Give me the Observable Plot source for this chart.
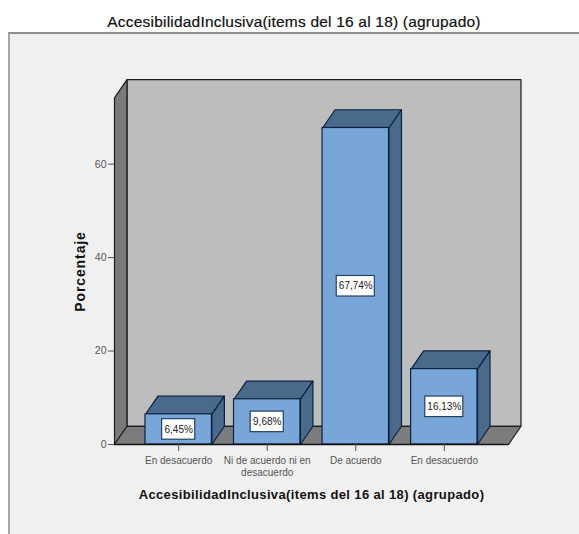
<!DOCTYPE html>
<html>
<head>
<meta charset="utf-8">
<script src="https://cdn.jsdelivr.net/npm/d3@7"></script>
<script src="https://cdn.jsdelivr.net/npm/@observablehq/plot@0.6"></script>
<style>
  html, body { margin: 0; padding: 0; background: #fff; overflow: hidden; }
  body { width: 579px; height: 534px; position: relative; font-family: "Liberation Sans", Arial, sans-serif; }
  #frame { position: absolute; left: 8px; top: 32px; right: -4px; bottom: -4px; background: #f0f0f0; border: 2px solid #8f8f8f; border-left-color: #a6a6a6; }
  #title { position: relative; height: 33px; line-height: 44px; text-align: center; font-size: 15.5px; letter-spacing: 0.2px; color: #111; padding-left: 9px; -webkit-text-stroke: 0.2px #111; }
  #chart { position: relative; }
  #chart svg { display: block; }
</style>
</head>
<body>
<div id="frame"></div>
<div id="title">AccesibilidadInclusiva(items del 16 al 18) (agrupado)</div>
<div id="chart"></div>
<script>
const categories = ["En desacuerdo", "Ni de acuerdo ni en\ndesacuerdo", "De acuerdo", "En desacuerdo"];
const percentages = [6.45, 9.68, 67.74, 16.13];
const valueLabels = ["6,45%", "9,68%", "67,74%", "16,13%"];
const yTicks = [0, 20, 40, 60];
const axisTitle = "AccesibilidadInclusiva(items del 16 al 18) (agrupado)";
const yTitle = "Porcentaje";

// Extent of the box in axis units, and the oblique offset that gives it depth.
const xMin = -0.725, xMax = 3.725, yTop = 74.2;
const depthX = 0.141, depthY = 3.9;
const barHalf = 0.375;

// Closed outline from a list of [x, y] corners, tagged with a face id.
const face = (id, corners) =>
  [...corners, corners[0]].map(([x, y]) => ({id, x, y}));

const wallBack = face("back", [[xMin + depthX, depthY], [xMax + depthX, depthY], [xMax + depthX, yTop + depthY], [xMin + depthX, yTop + depthY]]);
const wallLeft = face("left", [[xMin, 0], [xMin + depthX, depthY], [xMin + depthX, yTop + depthY], [xMin, yTop]]);
const floor = face("floor", [[xMin, 0], [xMax, 0], [xMax + depthX, depthY], [xMin + depthX, depthY]]);

const barTops = percentages.flatMap((v, i) => face("top" + i, [[i - barHalf, v], [i + barHalf, v], [i + barHalf + depthX, v + depthY], [i - barHalf + depthX, v + depthY]]));
const barSides = percentages.flatMap((v, i) => face("side" + i, [[i + barHalf, 0], [i + barHalf + depthX, depthY], [i + barHalf + depthX, v + depthY], [i + barHalf, v]]));
const bars = percentages.map((v, i) => ({i, v, label: valueLabels[i]}));

const wallStroke = "#1c1c1c", barStroke = "#0c2240";

const chart = Plot.plot({
  width: 579,
  height: 501,
  marginLeft: 114,
  marginRight: 71,
  marginTop: 47,
  marginBottom: 90,
  style: {background: "transparent", fontFamily: "'Liberation Sans', Arial, sans-serif"},
  x: {domain: [xMin, xMax]},
  y: {domain: [0, 77.9]},
  marks: [
    Plot.line(wallBack, {x: "x", y: "y", z: "id", fill: "#bdbdbd", stroke: wallStroke, strokeWidth: 1.2}),
    Plot.line(wallLeft, {x: "x", y: "y", z: "id", fill: "#7a7a7a", stroke: wallStroke, strokeWidth: 1.2}),
    Plot.line(floor, {x: "x", y: "y", z: "id", fill: "#7c7c7c", stroke: wallStroke, strokeWidth: 1.2}),
    Plot.line(barTops, {x: "x", y: "y", z: "id", fill: "#4a6a8c", stroke: barStroke, strokeWidth: 1.2}),
    Plot.line(barSides, {x: "x", y: "y", z: "id", fill: "#4a6a8c", stroke: barStroke, strokeWidth: 1.2}),
    Plot.rect(bars, {x1: d => d.i - barHalf, x2: d => d.i + barHalf, y1: 0, y2: "v", fill: "#78a6d8", stroke: barStroke, strokeWidth: 1.2}),
    Plot.ruleY([0], {x1: xMin, x2: xMax, stroke: "#111", strokeWidth: 1.6}),
    Plot.rect(bars, {
      x1: d => d.i - (d.label.length > 5 ? 0.215 : 0.187),
      x2: d => d.i + (d.label.length > 5 ? 0.215 : 0.187),
      y1: d => d.v / 2 - 2.2,
      y2: d => d.v / 2 + 2.2,
      fill: "#fff",
      stroke: "#24405f",
      strokeWidth: 1.2
    }),
    Plot.text(bars, {x: "i", y: d => d.v / 2, text: "label", fontSize: 10, fill: "#222"}),
    Plot.axisY({ticks: yTicks, tickSize: 6, tickPadding: 2, fontSize: 10.5, color: "#555", label: null, anchor: "left"}),
    Plot.axisX({ticks: [0, 1, 2, 3], tickSize: 7, tickPadding: 4, fontSize: 10, color: "#555", lineHeight: 1.2, lineWidth: 30, label: null, anchor: "bottom", tickFormat: i => categories[i]}),
    Plot.text([axisTitle], {frameAnchor: "bottom", dy: 54, fontSize: 13, fontWeight: "bold", fill: "#111"}),
    Plot.text([yTitle], {frameAnchor: "left", textAnchor: "middle", rotate: -90, dx: -34, dy: 9, fontSize: 14, fontWeight: "bold", fill: "#111"})
  ]
});

// Wider tracking on the two axis titles.
for (const t of chart.querySelectorAll("text")) {
  if (t.textContent === axisTitle) t.style.letterSpacing = "0.36px";
  if (t.textContent === yTitle) t.style.letterSpacing = "0.9px";
}
document.getElementById("chart").appendChild(chart);
</script>
</body>
</html>
